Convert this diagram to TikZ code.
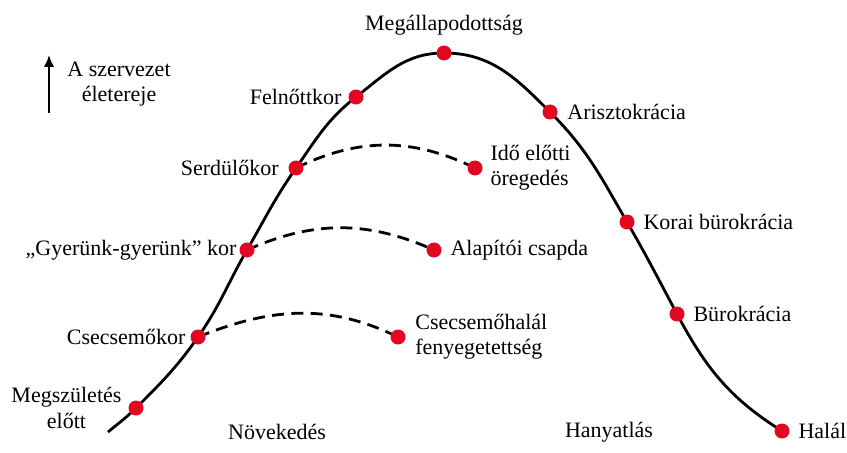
\documentclass[tikz,border=0pt]{standalone}
\usepackage{fontspec}
\setmainfont{Liberation Serif}
\usetikzlibrary{positioning,arrows.meta,backgrounds}
\definecolor{dotred}{RGB}{227,6,33}
\begin{document}
\begin{tikzpicture}[x=0.75pt,y=-0.75pt,font=\fontsize{16.5}{19}\selectfont]
  \tikzset{dot/.style={circle, fill=dotred, inner sep=0pt, minimum size=11.25pt}}
  \tikzset{life/.style={line width=2.1pt}}
  \tikzset{trap/.style={line width=2.1pt, dash pattern=on 9pt off 5.5pt}}
  \tikzset{lbl/.style={inner sep=0pt, align=center}}
  \useasboundingbox (0,0) rectangle (847,453);
  % stages of the life cycle
  \coordinate (start) at (108,432);
  \node[dot] (birth) at (136,408) {};
  \node[dot] (infant) at (198,337) {};
  \node[dot] (gogo) at (247,250) {};
  \node[dot] (teen) at (296,168) {};
  \node[dot] (adult) at (356,97) {};
  \node[dot] (prime) at (444,53) {};
  \node[dot] (aristo) at (550,112) {};
  \node[dot] (earlybur) at (627,222) {};
  \node[dot] (bur) at (677,314) {};
  \node[dot] (death) at (782,431) {};
  % traps
  \node[dot] (infantdeath) at (398,337) {};
  \node[dot] (founder) at (434,250) {};
  \node[dot] (aging) at (475,168) {};
  \begin{scope}[on background layer]
    \draw[life] (start) to[out=40, in=225] (birth.center)
      to[out=45, in=235] (infant.center)
      to[out=55, in=240] (gogo.center)
      to[out=60, in=235] (teen.center)
      to[out=55, in=218] (adult.center)
      to[out=38, in=180] (prime.center)
      to[out=0, in=135] (aristo.center)
      to[out=-45, in=120] (earlybur.center)
      to[out=-60, in=118] (bur.center)
      to[out=-62, in=148] (death.center);
    \draw[trap] (infant.center) to[out=22, in=154] (infantdeath.center);
    \draw[trap] (gogo.center) to[out=24, in=156] (founder.center);
    \draw[trap] (teen.center) to[out=26, in=154] (aging.center);
  \end{scope}
  % labels
  \node[lbl, left=4.9pt of birth] (birthtext) {Megszületés\\előtt};
  \node[lbl, left=3.4pt of infant] (infanttext) {Csecsemőkor};
  \node[lbl, left=1.9pt of gogo] (gogotext) {„Gyerünk-gyerünk” kor};
  \node[lbl, left=7pt of teen] (teentext) {Serdülőkor};
  \node[lbl, left=4.9pt of adult] (adulttext) {Felnőttkor};
  \node[lbl, above=7.5pt of prime] (primetext) {Megállapodottság};
  \node[lbl, right=7pt of aristo] (aristotext) {Arisztokrácia};
  \node[lbl, right=6.4pt of earlybur] (earlyburtext) {Korai bürokrácia};
  \node[lbl, right=6.4pt of bur] (burtext) {Bürokrácia};
  \node[lbl, right=6.4pt of death] (deathtext) {Halál};
  \node[lbl, align=left, right=7pt of infantdeath] (infantdeathtext) {Csecsemőhalál\\fenyegetettség};
  \node[lbl, right=6.4pt of founder] (foundertext) {Alapítói csapda};
  \node[lbl, align=left, right=5.6pt of aging] (agingtext) {Idő előtti\\öregedés};
  \node[lbl] (growth) at (277,432) {Növekedés};
  \node[lbl] (decline) at (609,432) {Hanyatlás};
  % vitality axis
  \coordinate (arrowlow) at (49,113);
  \coordinate (arrowhigh) at (49,55);
  \draw[-{Latex[length=9pt,width=8pt]}, line width=1.7pt] (arrowlow) -- (arrowhigh);
  \node[lbl] (vigour) at (119,84) {A szervezet\\életereje};
\end{tikzpicture}
\end{document}
